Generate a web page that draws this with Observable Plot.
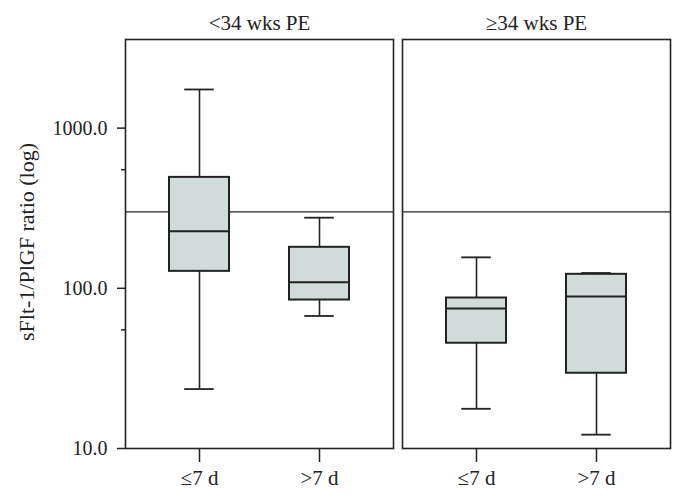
<!DOCTYPE html>
<html>
<head>
<meta charset="utf-8">
<script src="https://cdn.jsdelivr.net/npm/d3@7"></script>
<script src="https://cdn.jsdelivr.net/npm/@observablehq/plot@0.6"></script>
<style>
  html, body { margin: 0; padding: 0; background: #fff; }
  svg { display: block; }
</style>
</head>
<body>
<div id="chart"></div>
<script>
const panels = ["<34 wks PE", "≥34 wks PE"];
const groups = ["≤7 d", ">7 d"];
const panelOf = [panels[0], panels[0], panels[1], panels[1]];
const groupOf = [groups[0], groups[1], groups[0], groups[1]];
const mins    = [23.5, 67.2, 17.7, 12.2];
const q1s     = [127.6, 84.5, 45.4, 29.5];
const medians = [226.8, 109, 74.7, 88.8];
const q3s     = [492.6, 180.3, 87, 122.3];
const maxs    = [1743, 276, 156.1, 124.6];
const cutoff = [300];
const majorTicks = [10, 100, 1000];
const minorTicks = [55, 550];
const yLabel = "sFlt-1/PlGF ratio (log)";

const data = panelOf.map((p, i) => ({
  panel: p, group: groupOf[i], min: mins[i], q1: q1s[i],
  median: medians[i], q3: q3s[i], max: maxs[i]
}));

const ink = "#222";

const chart = Plot.plot({
  width: 685,
  height: 500,
  marginLeft: 125,
  marginRight: 14.3,
  marginTop: 39,
  marginBottom: 52,
  style: { fontFamily: "Liberation Serif", background: "#fff", color: ink },
  fx: { domain: panels, paddingInner: 0.0328, paddingOuter: 0, label: null, axis: null },
  x: { domain: groups, paddingInner: 0.498, paddingOuter: 0.362, axis: null },
  y: { type: "log", domain: [10, 3575], axis: null },
  marks: [
    Plot.ruleY(cutoff, { stroke: ink, strokeWidth: 1.3 }),
    Plot.ruleX(data, { x: "group", fx: "panel", y1: "q3", y2: "max", stroke: ink, strokeWidth: 1.6 }),
    Plot.ruleX(data, { x: "group", fx: "panel", y1: "q1", y2: "min", stroke: ink, strokeWidth: 1.6 }),
    Plot.tickY(data, { x: "group", fx: "panel", y: "max", stroke: ink, strokeWidth: 1.8, insetLeft: 15.25, insetRight: 15.25 }),
    Plot.tickY(data, { x: "group", fx: "panel", y: "min", stroke: ink, strokeWidth: 1.8, insetLeft: 15.25, insetRight: 15.25 }),
    Plot.barY(data, { x: "group", fx: "panel", y1: "q1", y2: "q3", fill: "#d1dbd9", stroke: ink, strokeWidth: 2 }),
    Plot.tickY(data, { x: "group", fx: "panel", y: "median", stroke: ink, strokeWidth: 2 }),
    Plot.frame({ stroke: ink, strokeWidth: 1.6 }),
    Plot.axisY({ ticks: majorTicks, tickFormat: d => d.toFixed(1), tickSize: 8, tickPadding: 10, fontSize: 20, label: null, stroke: ink, strokeWidth: 1.5, color: ink }),
    Plot.axisY({ ticks: minorTicks, tickSize: 4, tickFormat: () => "", label: null, stroke: ink, strokeWidth: 1.5 }),
    Plot.axisX({ tickSize: 14, tickPadding: 8, fontSize: 21, label: null, stroke: ink, strokeWidth: 1.5 }),
    Plot.axisFx({ tickSize: 0, tickPadding: 10, fontSize: 21, label: null }),
    Plot.text([yLabel], { text: d => d, frameAnchor: "left", textAnchor: "middle", lineAnchor: "middle", dx: -98.5, dy: -2, rotate: -90, fontSize: 22, fill: ink, facetAnchor: "left" })
  ]
});

document.getElementById("chart").appendChild(chart);
</script>
</body>
</html>
